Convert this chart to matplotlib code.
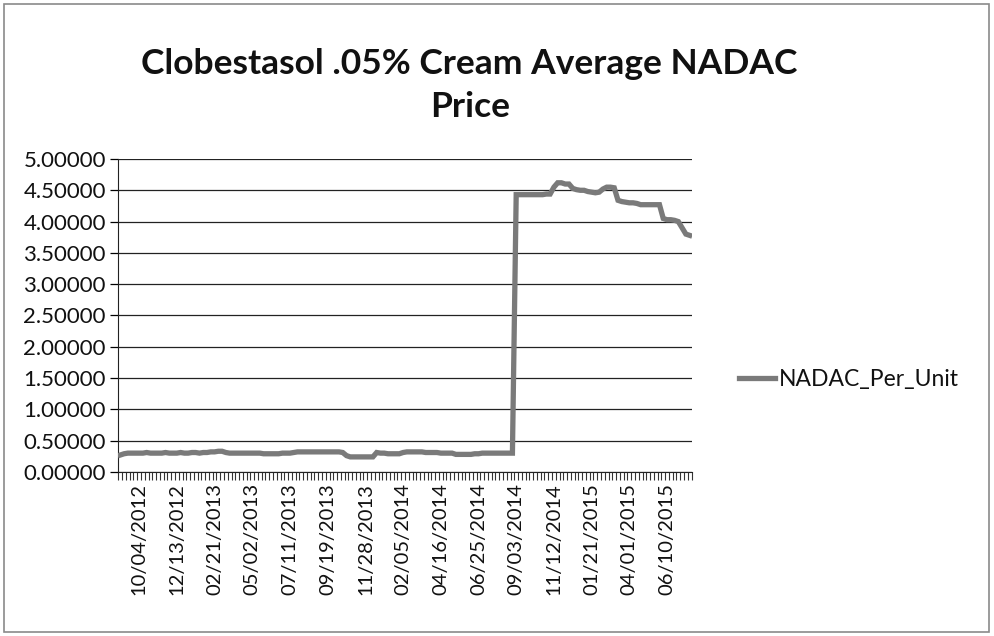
import matplotlib.pyplot as plt
import matplotlib.patches as patches
import numpy as np
import pandas as pd

# weekly NADAC effective dates (Thursdays, then Wednesdays from Dec 2013)
dates = list(pd.date_range('2012-08-30', '2013-11-28', freq='7D')) + \
    list(pd.date_range('2013-12-04', periods=86, freq='7D'))

# average NADAC per unit
price_low = [0.27, 0.29, 0.30, 0.30, 0.30, 0.30, 0.30, 0.31, 0.30, 0.30,
             0.30, 0.30, 0.31, 0.30, 0.30, 0.30, 0.31, 0.30, 0.30, 0.31,
             0.31, 0.30, 0.31, 0.31, 0.32, 0.32, 0.33, 0.33, 0.31, 0.30,
             0.30, 0.30, 0.30, 0.30, 0.30, 0.30, 0.30, 0.30, 0.29, 0.29,
             0.29, 0.29, 0.29, 0.30, 0.30, 0.30, 0.31, 0.32, 0.32, 0.32,
             0.32, 0.32, 0.32, 0.32, 0.32, 0.32, 0.32, 0.32, 0.32, 0.31,
             0.26, 0.24, 0.24, 0.24, 0.24, 0.24, 0.24, 0.24, 0.31, 0.30,
             0.30, 0.29, 0.29, 0.29, 0.29, 0.31, 0.32, 0.32, 0.32, 0.32,
             0.32, 0.31, 0.31, 0.31, 0.31, 0.30, 0.30, 0.30, 0.30, 0.28,
             0.28, 0.28, 0.28, 0.28, 0.29, 0.29, 0.30, 0.30, 0.30, 0.30,
             0.30, 0.30, 0.30, 0.30, 0.30]
price_high = [4.43, 4.43, 4.43, 4.43, 4.43, 4.43, 4.43, 4.43, 4.44, 4.44,
              4.55, 4.62, 4.62, 4.60, 4.60, 4.53, 4.51, 4.50, 4.50, 4.48,
              4.47, 4.46, 4.47, 4.52, 4.55, 4.55, 4.54, 4.34, 4.32, 4.31,
              4.30, 4.30, 4.29, 4.27, 4.27, 4.27, 4.27, 4.27, 4.27, 4.05,
              4.03, 4.03, 4.02, 4.00, 3.90, 3.80, 3.78]
price = price_low + price_high

series_name = 'NADAC_Per_Unit'
title = 'Clobestasol .05% Cream Average NADAC\nPrice'

plt.rcParams['font.family'] = ['Lato', 'DejaVu Sans']
plt.rcParams['text.color'] = '#111111'
plt.rcParams['xtick.labelcolor'] = '#111111'
plt.rcParams['ytick.labelcolor'] = '#111111'

fig = plt.figure(figsize=(9.95, 6.36), dpi=100)
ax = fig.add_axes([0.119, 0.258, 0.576, 0.492])

n = len(price)
x = np.arange(n) + 0.5
ax.plot(x, price, color='#7a7a7a', linewidth=3.8, label=series_name,
        solid_joinstyle='miter', zorder=3)

ax.set_xlim(0, n)
ax.set_ylim(0, 5)
ax.set_yticks(np.arange(0, 5.01, 0.5))
ax.yaxis.set_major_formatter(plt.FuncFormatter(lambda v, p: f'{v:.5f}'))
ax.grid(axis='y', color='#222222', linewidth=0.9)
ax.set_axisbelow(True)

lab_idx = np.arange(5, n, 10)
ax.set_xticks(lab_idx + 0.5)
ax.set_xticklabels([dates[i].strftime('%m/%d/%Y') for i in lab_idx],
                   rotation=90)
ax.set_xticks(np.arange(0, n + 1), minor=True)
ax.tick_params(axis='x', which='major', length=0, pad=8, labelsize=14.5)
ax.tick_params(axis='x', which='minor', length=6, width=0.8, direction='out',
               color='#333333')
ax.tick_params(axis='y', length=6, width=0.9, labelsize=16, pad=3)

for s in ['top', 'right']:
    ax.spines[s].set_visible(False)
ax.spines['left'].set_color('#222222')
ax.spines['bottom'].set_color('#222222')

fig.text(0.472, 0.865, title, ha='center', va='center', fontsize=25.5,
         fontweight='bold', linespacing=1.42)

ax.legend(loc='center left', bbox_to_anchor=(0.731, 0.403),
          bbox_transform=fig.transFigure, frameon=False, fontsize=16.5,
          handlelength=1.6, handletextpad=0.15, borderpad=0)

fig.patches.append(patches.Rectangle((0.004, 0.006), 0.99, 0.988,
                                     transform=fig.transFigure, fill=False,
                                     edgecolor='#8a8a8a', linewidth=1.2))

fig.savefig('out.png', dpi=100)
